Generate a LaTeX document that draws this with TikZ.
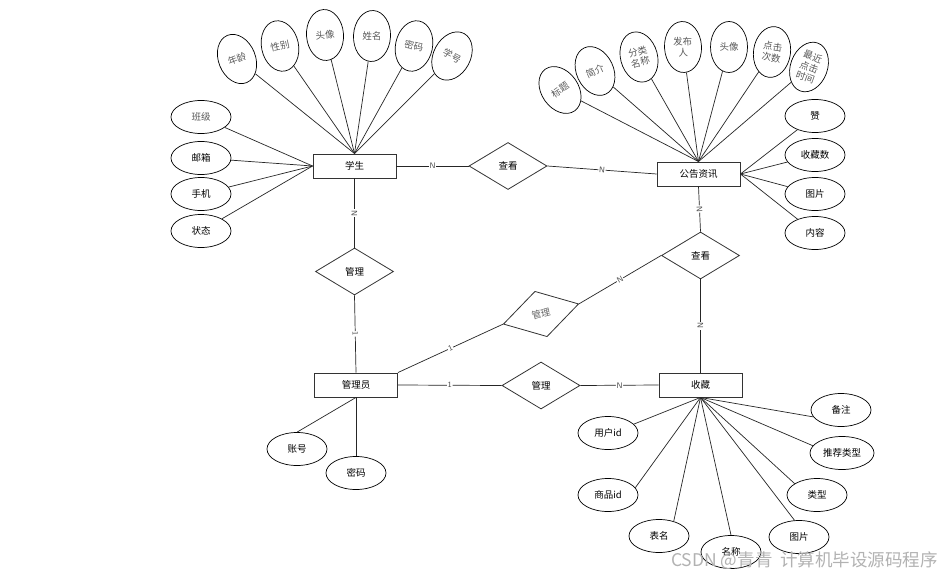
\documentclass[tikz,border=0pt]{standalone}
\usepackage{fontspec}
\newfontfamily\cjk{Noto Sans CJK SC}
\usetikzlibrary{shapes.geometric}
\begin{document}
\begin{tikzpicture}[x=1pt,y=-1pt,
 every node/.style={font=\cjk\fontsize{9.5}{11}\selectfont},
 ent/.style={draw=black!80, line width=0.9pt, minimum width=83pt, minimum height=24pt, inner sep=0pt},
 rel/.style={draw=black!80, line width=0.8pt, diamond, minimum width=78pt, minimum height=47pt, inner sep=0pt},
 attr/.style={draw=black, line width=0.7pt, ellipse, minimum width=60pt, minimum height=33pt, inner sep=0pt},
 vattr/.style={draw=black, line width=0.7pt, ellipse, minimum width=37pt, minimum height=51pt, inner sep=0pt, text=black!65, align=center, font=\cjk\fontsize{9.5}{11}\selectfont},
 lnk/.style={draw=black!85, line width=0.7pt},
 card/.style={fill=white, inner sep=0.6pt, font=\sffamily\fontsize{8}{8}\selectfont, text=black!70, sloped, midway}
]
\useasboundingbox (0,0) rectangle (947,575);
\fill[white] (0,0) rectangle (947,575);

% entities
\node[ent] (xs) at (354.5,166) {学生};
\node[ent] (gg) at (698.5,174) {公告资讯};
\node[ent] (gly) at (356,385) {管理员};
\node[ent] (sc) at (700.5,385) {收藏};

% relationships
\node[rel] (ck1) at (508,166) {查看};
\node[rel] (gl1) at (354.5,271.5) {管理};
\node[rel] (ck2) at (700.5,255.5) {查看};
\node[rel, rotate=15, text=black!60] (gl2) at (541,314) {管理};
\node[rel] (gl3) at (541,385.5) {管理};

% student attributes
\node[vattr, rotate=22] (nl) at (237,59) {年龄};
\node[vattr, rotate=12] (xb) at (280,46) {性别};
\node[vattr, rotate=4] (tx1) at (325,35) {头像};
\node[vattr, rotate=-3] (xm) at (372,36) {姓名};
\node[vattr, rotate=-12] (mm1) at (414,46) {密码};
\node[vattr, rotate=-28] (xh) at (452,56) {学号};
\node[attr, text=black!65] (bj) at (201,117) {班级};
\node[attr] (yx) at (201,158) {邮箱};
\node[attr] (sj) at (201,194) {手机};
\node[attr] (zt) at (201,231) {状态};

% notice attributes
\node[vattr, rotate=35] (bt) at (560,90) {标题};
\node[vattr, rotate=25] (jj) at (595,71) {简介};
\node[vattr, rotate=15] (fl) at (639,57) {分类\\名称};
\node[vattr, rotate=3] (fb) at (683,47) {发布\\人};
\node[vattr, rotate=0] (tx2) at (729,47) {头像};
\node[vattr, rotate=-8] (dj) at (772,52) {点击\\次数};
\node[vattr, rotate=-20] (zj) at (809,67) {最近\\点击\\时间};
\node[attr] (zan) at (815,116) {赞};
\node[attr] (scs) at (815,155) {收藏数};
\node[attr] (tp1) at (815,194) {图片};
\node[attr] (nr) at (815,233) {内容};

% admin attributes
\node[attr] (zh) at (297,449) {账号};
\node[attr] (mm2) at (356,473) {密码};

% collection attributes
\node[attr] (yhid) at (608,433) {用户id};
\node[attr] (spid) at (608,495) {商品id};
\node[attr] (bm) at (659,536) {表名};
\node[attr] (mc) at (731,552) {名称};
\node[attr] (tp2) at (799,537) {图片};
\node[attr] (lx) at (817,495) {类型};
\node[attr, minimum width=64pt] (tjlx) at (842,453) {推荐类型};
\node[attr] (bz) at (841,410) {备注};

% attribute links
\foreach \a in {nl,xb,tx1,xm,mm1,xh} \draw[lnk] (\a) -- (xs.north);
\foreach \a in {bj,yx,sj,zt} \draw[lnk] (\a) -- (xs.west);
\foreach \a in {bt,jj,fl,fb,tx2,dj,zj} \draw[lnk] (\a) -- (gg.north);
\foreach \a in {zan,scs,tp1,nr} \draw[lnk] (\a) -- (gg.east);
\draw[lnk] (zh.north) -- (gly.south);
\draw[lnk] (mm2.north) -- (gly.south);
\draw[lnk] (yhid.19) -- (sc.south);
\draw[lnk] (spid.15) -- (sc.south);
\draw[lnk] (bm.45) -- (sc.south);
\draw[lnk] (mc.north) -- (sc.south);
\draw[lnk] (tp2.105) -- (sc.south);
\draw[lnk] (lx.153) -- (sc.south);
\draw[lnk] (tjlx.166) -- (sc.south);
\draw[lnk] (bz.194) -- (sc.south);

% relationship links
\draw[lnk] (xs.east) -- node[card] {N} (ck1.west);
\draw[lnk] (ck1.east) -- node[card] {N} (gg.west);
\draw[lnk] (xs.south) -- node[card] {N} (gl1.north);
\draw[lnk] (gl1.south) -- node[card] {1} (gly.north);
\draw[lnk] (gg.south) -- node[card] {N} (ck2.north);
\draw[lnk] (ck2.south) -- node[card] {N} (sc.north);
\draw[lnk] (ck2.west) -- node[card] {N} (gl2.east);
\draw[lnk] (gl2.west) -- node[card] {1} (gly.north east);
\draw[lnk] (gly.east) -- node[card] {1} (gl3.west);
\draw[lnk] (gl3.east) -- node[card] {N} (sc.west);

% watermark
\node[anchor=west, text=black!30, font=\cjk\fontsize{17.5}{17.5}\selectfont, inner sep=0pt] (wm) at (671,561) {CSDN @青青\ \ 计算机毕设源码程序};
\end{tikzpicture}
\end{document}
